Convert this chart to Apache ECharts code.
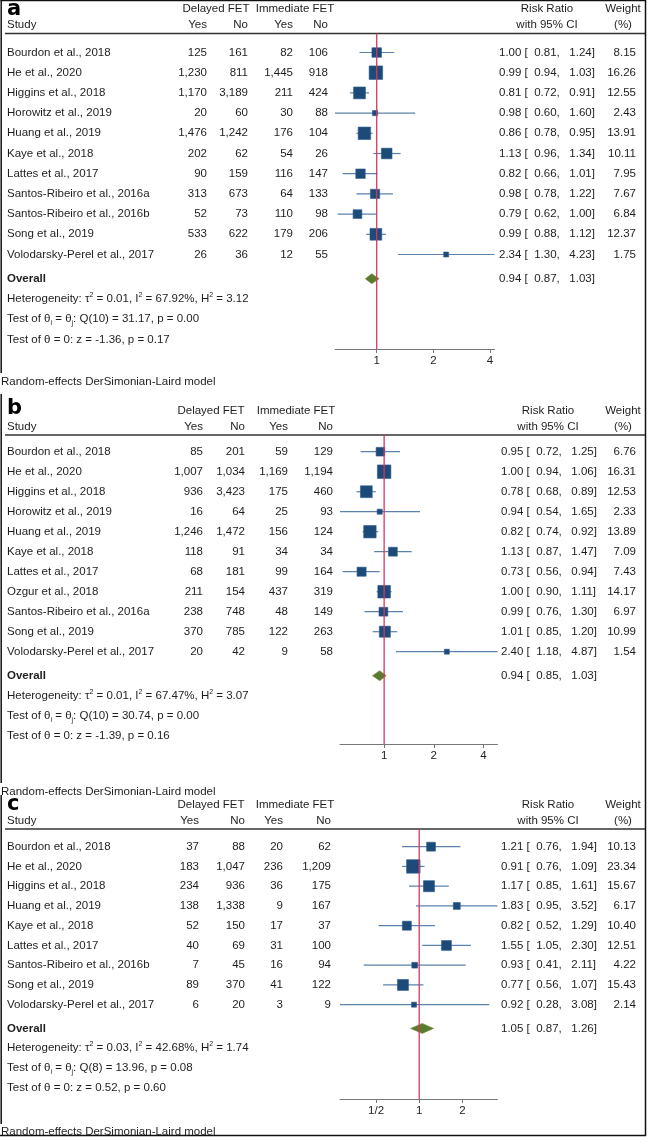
<!DOCTYPE html>
<html><head><meta charset="utf-8">
<script src="https://cdn.jsdelivr.net/npm/echarts@6/dist/echarts.min.js"></script>
<style>html,body{margin:0;padding:0;background:#fff}#c{width:649px;height:1137px}</style>
</head><body><div id="c"></div><script>
// ---------------- DATA ----------------
// Panel a
const studiesA = ['Bourdon et al., 2018','He et al., 2020','Higgins et al., 2018','Horowitz et al., 2019','Huang et al., 2019','Kaye et al., 2018','Lattes et al., 2017','Santos-Ribeiro et al., 2016a','Santos-Ribeiro et al., 2016b','Song et al., 2019','Volodarsky-Perel et al., 2017'];
const dYesA = [125,1230,1170,20,1476,202,90,313,52,533,26];
const dNoA  = [161,811,3189,60,1242,62,159,673,73,622,36];
const iYesA = [82,1445,211,30,176,54,116,64,110,179,12];
const iNoA  = [106,918,424,88,104,26,147,133,98,206,55];
const rrA = [1.00,0.99,0.81,0.98,0.86,1.13,0.82,0.98,0.79,0.99,2.34];
const loA = [0.81,0.94,0.72,0.60,0.78,0.96,0.66,0.78,0.62,0.88,1.30];
const hiA = [1.24,1.03,0.91,1.60,0.95,1.34,1.01,1.22,1.00,1.12,4.23];
const wA  = [8.15,16.26,12.55,2.43,13.91,10.11,7.95,7.67,6.84,12.37,1.75];
const overallA = [0.94,0.87,1.03];
const statsA = {tau2:'0.01', i2:'67.92%', h2:'3.12', df:10, q:'31.17', qp:'0.00', z:'-1.36', zp:'0.17'};
const ticksA = [1,2,4];
const tickLabelsA = ['1','2','4'];

// Panel b
const studiesB = ['Bourdon et al., 2018','He et al., 2020','Higgins et al., 2018','Horowitz et al., 2019','Huang et al., 2019','Kaye et al., 2018','Lattes et al., 2017','Ozgur et al., 2018','Santos-Ribeiro et al., 2016a','Song et al., 2019','Volodarsky-Perel et al., 2017'];
const dYesB = [85,1007,936,16,1246,118,68,211,238,370,20];
const dNoB  = [201,1034,3423,64,1472,91,181,154,748,785,42];
const iYesB = [59,1169,175,25,156,34,99,437,48,122,9];
const iNoB  = [129,1194,460,93,124,34,164,319,149,263,58];
const rrB = [0.95,1.00,0.78,0.94,0.82,1.13,0.73,1.00,0.99,1.01,2.40];
const loB = [0.72,0.94,0.68,0.54,0.74,0.87,0.56,0.90,0.76,0.85,1.18];
const hiB = [1.25,1.06,0.89,1.65,0.92,1.47,0.94,1.11,1.30,1.20,4.87];
const wB  = [6.76,16.31,12.53,2.33,13.89,7.09,7.43,14.17,6.97,10.99,1.54];
const overallB = [0.94,0.85,1.03];
const statsB = {tau2:'0.01', i2:'67.47%', h2:'3.07', df:10, q:'30.74', qp:'0.00', z:'-1.39', zp:'0.16'};
const ticksB = [1,2,4];
const tickLabelsB = ['1','2','4'];

// Panel c
const studiesC = ['Bourdon et al., 2018','He et al., 2020','Higgins et al., 2018','Huang et al., 2019','Kaye et al., 2018','Lattes et al., 2017','Santos-Ribeiro et al., 2016b','Song et al., 2019','Volodarsky-Perel et al., 2017'];
const dYesC = [37,183,234,138,52,40,7,89,6];
const dNoC  = [88,1047,936,1338,150,69,45,370,20];
const iYesC = [20,236,36,9,17,31,16,41,3];
const iNoC  = [62,1209,175,167,37,100,94,122,9];
const rrC = [1.21,0.91,1.17,1.83,0.82,1.55,0.93,0.77,0.92];
const loC = [0.76,0.76,0.85,0.95,0.52,1.05,0.41,0.56,0.28];
const hiC = [1.94,1.09,1.61,3.52,1.29,2.30,2.11,1.07,3.08];
const wC  = [10.13,23.34,15.67,6.17,10.40,12.51,4.22,15.43,2.14];
const overallC = [1.05,0.87,1.26];
const statsC = {tau2:'0.03', i2:'42.68%', h2:'1.74', df:8, q:'13.96', qp:'0.08', z:'0.52', zp:'0.60'};
const ticksC = [0.5,1,2];
const tickLabelsC = ['1/2','1','2'];

// ---------------- STYLE / LAYOUT ----------------
const FONT = '"Liberation Sans", Arial, Helvetica, sans-serif';
const FS = 11.5;
const TXT = '#1e1e1e';
const RED = '#d8365f';
const CI = '#5a82ab';
const SQ = '#1c4a79';
const DIA = '#5a7a2c';
const AX = '#777';

const layouts = [
  {label:'a', labelY:10, hdr1Y:9, hdr2Y:25, headerLineY:33.5, row0Y:52.5, step:20.2, axisY:349, plotLeft:335, plotRight:494.5,
   cols:[207,248,293,328], delayedCx:216, immCx:295, rrX:499, wRight:636, rrHeadCx:547, wHeadCx:623, reY:382},
  {label:'b', labelY:409, hdr1Y:411, hdr2Y:427, headerLineY:435, row0Y:451.7, step:20, axisY:744, plotLeft:340, plotRight:497.5,
   cols:[203,245,288,333], delayedCx:211, immCx:296, rrX:501, wRight:636, rrHeadCx:548, wHeadCx:623, reY:792},
  {label:'c', labelY:805, hdr1Y:805, hdr2Y:821, headerLineY:829, row0Y:846.7, step:19.75, axisY:1099, plotLeft:340, plotRight:497.5,
   cols:[199,245,283,331], delayedCx:211, immCx:295, rrX:501, wRight:636, rrHeadCx:548, wHeadCx:623, reY:1132}
];

const panels = [
  {studies:studiesA,dYes:dYesA,dNo:dNoA,iYes:iYesA,iNo:iNoA,rr:rrA,lo:loA,hi:hiA,w:wA,overall:overallA,stats:statsA,ticks:ticksA,tickLabels:tickLabelsA},
  {studies:studiesB,dYes:dYesB,dNo:dNoB,iYes:iYesB,iNo:iNoB,rr:rrB,lo:loB,hi:hiB,w:wB,overall:overallB,stats:statsB,ticks:ticksB,tickLabels:tickLabelsB},
  {studies:studiesC,dYes:dYesC,dNo:dNoC,iYes:iYesC,iNo:iNoC,rr:rrC,lo:loC,hi:hiC,w:wC,overall:overallC,stats:statsC,ticks:ticksC,tickLabels:tickLabelsC}
];

const log2 = Math.log2;
const fmtN = v => v.toLocaleString('en-US');
const f2 = v => v.toFixed(2);
const rrText = (e,l,h) => `${f2(e)} [  ${f2(l)},   ${f2(h)}]`;
const font = (bold, size) => `${bold ? 'bold ' : ''}${size || FS}px ${FONT}`;

function T(x, y, text, align, bold, extra) {
  return Object.assign({type:'text', x, y, silent:true, style:{text, fill:TXT, font:font(bold), textAlign:align, align, textVerticalAlign:'middle', verticalAlign:'middle', whiteSpace:'pre'}}, extra || {});
}
function richT(x, y, text) {
  return {type:'text', x, y, silent:true, style:{text, fill:TXT, font:font(false), textAlign:'left', align:'left', textVerticalAlign:'middle', verticalAlign:'middle',
    lineHeight:15,
    rich:{
      sup:{fontSize:7, fontFamily:FONT, fill:TXT, verticalAlign:'top', lineHeight:15},
      sub:{fontSize:7, fontFamily:FONT, fill:TXT, verticalAlign:'bottom', lineHeight:15}
    }}};
}

const option = {animation:false, backgroundColor:'#fff', grid:[], xAxis:[], yAxis:[], series:[], graphic:[]};

panels.forEach((P, k) => {
  const L = layouts[k];
  const N = P.studies.length;
  const yMin = (L.headerLineY - L.row0Y) / L.step;
  const yMax = (L.axisY - L.row0Y) / L.step;
  const xMin = log2(Math.min(...P.lo));
  const xMax = log2(Math.max(...P.hi));
  const wMax = Math.max(...P.w);
  const ax = {xAxisIndex:k, yAxisIndex:k};
  const rowOverall = N + 0.2;

  option.grid.push({left:L.plotLeft, top:L.headerLineY, width:L.plotRight - L.plotLeft, height:L.axisY - L.headerLineY});
  option.xAxis.push({gridIndex:k, type:'value', min:xMin, max:xMax,
    axisLine:{show:true, onZero:false, lineStyle:{color:AX, width:1}},
    axisTick:{show:true, length:4, customValues:P.ticks.map(log2), lineStyle:{color:AX, width:1}},
    axisLabel:{show:true, margin:6, customValues:P.ticks.map(log2), color:TXT, fontSize:FS, fontFamily:FONT,
      formatter:v => { const i = P.ticks.findIndex(t => Math.abs(log2(t) - v) < 1e-6); return i >= 0 ? P.tickLabels[i] : ''; }},
    splitLine:{show:false}});
  option.yAxis.push({gridIndex:k, type:'value', inverse:true, min:yMin, max:yMax, show:false});

  // CI lines
  option.series.push({type:'custom', ...ax, silent:true, z:2, clip:false,
    data:P.rr.map((r,i) => [log2(P.lo[i]), log2(P.hi[i]), i]),
    encode:{x:[0,1], y:2},
    renderItem:(params, api) => {
      const a = api.coord([api.value(0), api.value(2)]);
      const b = api.coord([api.value(1), api.value(2)]);
      return {type:'line', shape:{x1:a[0], y1:a[1], x2:b[0], y2:b[1]}, style:{stroke:CI, lineWidth:1.2}};
    }});
  // squares
  option.series.push({type:'scatter', ...ax, silent:true, z:3, symbol:'rect',
    data:P.rr.map((r,i) => [log2(r), i, P.w[i]]),
    symbolSize:v => Math.max(5, 13.5 * Math.sqrt(v[2] / wMax)),
    itemStyle:{color:SQ, borderColor:'#2e5e8e', borderWidth:0.6, opacity:1}});
  // overall diamond + overall text + stats
  option.series.push({type:'custom', ...ax, silent:true, z:3, clip:false,
    data:[[log2(P.overall[0]), log2(P.overall[1]), log2(P.overall[2]), rowOverall]],
    encode:{x:[0,1,2], y:3},
    renderItem:(params, api) => {
      const row = api.value(3);
      const c = api.coord([api.value(0), row]);
      const l = api.coord([api.value(1), row]);
      const h = api.coord([api.value(2), row]);
      const hh = 5;
      const yS = r => api.coord([api.value(0), r])[1];
      const s = P.stats;
      return {type:'group', children:[
        {type:'polygon', shape:{points:[[l[0], c[1]], [c[0], c[1]-hh], [h[0], c[1]], [c[0], c[1]+hh]]}, style:{fill:DIA, stroke:'#6d8c3c', lineWidth:0.6}},
        T(7, c[1], 'Overall', 'left', true),
        T(L.rrX, c[1], rrText(P.overall[0], P.overall[1], P.overall[2]), 'left'),
        richT(7, yS(row + 1), `Heterogeneity: τ{sup|2} = ${s.tau2}, I{sup|2} = ${s.i2}, H{sup|2} = ${s.h2}`),
        richT(7, yS(row + 2), `Test of θ{sub|i} = θ{sub|j}: Q(${s.df}) = ${s.q}, p = ${s.qp}`),
        T(7, yS(row + 3), `Test of θ = 0: z = ${s.z}, p = ${s.zp}`, 'left')
      ]};
    }});
  // table rows
  option.series.push({type:'custom', ...ax, silent:true, z:3, clip:false,
    data:P.studies.map((s,i) => [xMin, i]),
    encode:{x:0, y:1},
    renderItem:(params, api) => {
      const i = params.dataIndex;
      const y = api.coord([xMin, api.value(1)])[1];
      return {type:'group', children:[
        T(7, y, P.studies[i], 'left'),
        T(L.cols[0], y, fmtN(P.dYes[i]), 'right'),
        T(L.cols[1], y, fmtN(P.dNo[i]), 'right'),
        T(L.cols[2], y, fmtN(P.iYes[i]), 'right'),
        T(L.cols[3], y, fmtN(P.iNo[i]), 'right'),
        T(L.rrX, y, rrText(P.rr[i], P.lo[i], P.hi[i]), 'left'),
        T(L.wRight, y, f2(P.w[i]), 'right')
      ]};
    }});
  // reference line at RR = 1
  option.series.push({type:'line', ...ax, silent:true, z:5, symbol:'none', data:[[0, yMin], [0, yMax]],
    lineStyle:{color:RED, width:1.3}});

  // header graphics
  const g = option.graphic;
  g.push(T(7, L.labelY, L.label, 'left', true, {style:{text:L.label, fill:'#000', font:'bold 21px "DejaVu Sans", Arial, sans-serif', textAlign:'left', align:'left', textVerticalAlign:'middle', verticalAlign:'middle'}}));
  g.push(T(L.delayedCx, L.hdr1Y, 'Delayed FET', 'center'));
  g.push(T(L.immCx, L.hdr1Y, 'Immediate FET', 'center'));
  g.push(T(L.rrHeadCx, L.hdr1Y, 'Risk Ratio', 'center'));
  g.push(T(L.wHeadCx, L.hdr1Y, 'Weight', 'center'));
  g.push(T(7, L.hdr2Y, 'Study', 'left'));
  g.push(T(L.cols[0], L.hdr2Y, 'Yes', 'right'));
  g.push(T(L.cols[1], L.hdr2Y, 'No', 'right'));
  g.push(T(L.cols[2], L.hdr2Y, 'Yes', 'right'));
  g.push(T(L.cols[3], L.hdr2Y, 'No', 'right'));
  g.push(T(L.rrHeadCx, L.hdr2Y, 'with 95% CI', 'center'));
  g.push(T(L.wHeadCx, L.hdr2Y, '(%)', 'center'));
  g.push({type:'line', silent:true, shape:{x1:5, y1:L.headerLineY, x2:645, y2:L.headerLineY}, style:{stroke:'#333', lineWidth:1.3}});
  g.push(T(1, L.reY, 'Random-effects DerSimonian-Laird model', 'left'));
});

// outer frame
const frame = [
  [0.5, 0.5, 646, 0.5],
  [645.5, 0, 645.5, 1136],
  [0, 1135.5, 646, 1135.5],
  [1.2, 0, 1.2, 373],
  [1.2, 394, 1.2, 783],
  [1.2, 795, 1.2, 1124]
];
frame.forEach(f => option.graphic.push({type:'line', silent:true, z:10, shape:{x1:f[0], y1:f[1], x2:f[2], y2:f[3]}, style:{stroke:'#111', lineWidth:1.5}}));

const chart = echarts.init(document.getElementById('c'), null, {renderer:'canvas'});
chart.setOption(option);
</script></body></html>
